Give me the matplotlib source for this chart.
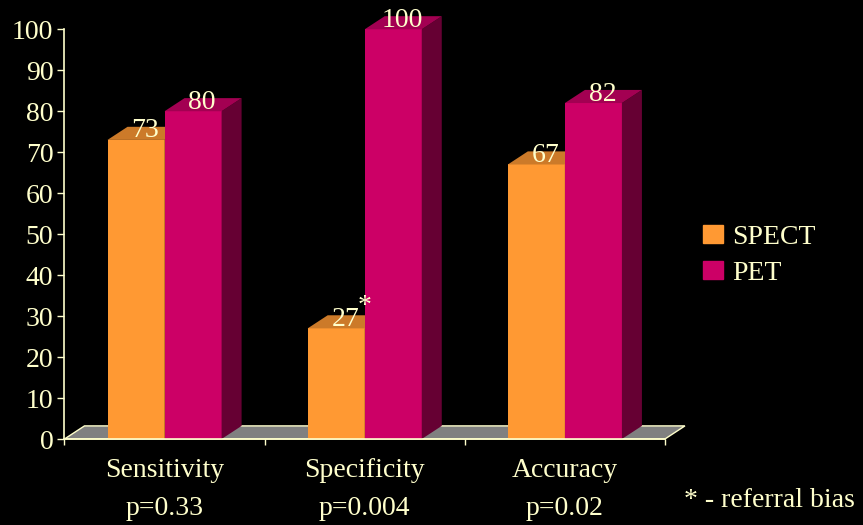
import matplotlib
matplotlib.use("Agg")
import matplotlib.pyplot as plt
from matplotlib.patches import Polygon
import numpy as np

# Diagnostic performance of SPECT vs PET (%)
categories = ["Sensitivity", "Specificity", "Accuracy"]
p_values = ["p=0.33", "p=0.004", "p=0.02"]
spect = [73, 27, 67]
pet = [80, 100, 82]
series_names = ["SPECT", "PET"]
footnote = "* - referral bias"
y_ticks = list(range(0, 101, 10))

CREAM = "#FFFFCC"
ORANGE = "#FF9933"
ORANGE_TOP = "#CC7A29"
ORANGE_SIDE = "#804D1A"
MAGENTA = "#CC0066"
MAGENTA_TOP = "#A30052"
MAGENTA_SIDE = "#660033"
FLOOR = "#808080"
FONT = "Liberation Serif"
FS = 20

plt.rcParams["font.family"] = [FONT, "DejaVu Serif"]

fig = plt.figure(figsize=(8.63, 5.25), dpi=100, facecolor="black")
ax = fig.add_axes([0.0747, 0.1638, 0.6958, 0.7804])
ax.set_facecolor("black")
ax.set_xlim(-0.5, 2.5)
ax.set_ylim(0, 100)

# pseudo-3D depth (data units)
DX, DY = 0.1, 3.2
width = 0.285
x = np.arange(len(categories))

# floor slab
floor = Polygon([(-0.5, 0), (2.5, 0), (2.5 + DX, DY), (-0.5 + DX, DY)],
                closed=True, facecolor=FLOOR, edgecolor=CREAM, lw=1.0,
                zorder=1, clip_on=False)
ax.add_patch(floor)


def bars_3d(xs, vals, front, top, side, z):
    rects = ax.bar(xs, vals, width=width, color=front, zorder=z,
                   linewidth=0)
    for r in rects:
        x0, w, h = r.get_x(), r.get_width(), r.get_height()
        x1 = x0 + w
        ax.add_patch(Polygon([(x1, 0), (x1 + DX, DY), (x1 + DX, h + DY), (x1, h)],
                             closed=True, facecolor=side, lw=0, zorder=z,
                             clip_on=False))
        ax.add_patch(Polygon([(x0, h), (x1, h), (x1 + DX, h + DY), (x0 + DX, h + DY)],
                             closed=True, facecolor=top, lw=0, zorder=z,
                             clip_on=False))
    return rects


b1 = bars_3d(x - width / 2, spect, ORANGE, ORANGE_TOP, ORANGE_SIDE, 3)
b2 = bars_3d(x + width / 2, pet, MAGENTA, MAGENTA_TOP, MAGENTA_SIDE, 4)

# value labels on the bar tops
for xs, vals in ((x - width / 2, spect), (x + width / 2, pet)):
    for xi, v in zip(xs, vals):
        ax.text(xi + 0.045, v + 0.6, f"{v}", ha="center", va="baseline",
                color=CREAM, fontsize=FS, zorder=6, clip_on=False)

# referral-bias marker on SPECT specificity
ax.text(1 - 0.0365, spect[1] + 3.8, "*", ha="left", va="baseline",
        color=CREAM, fontsize=FS, zorder=6)

# axes styling
for s in ("top", "right"):
    ax.spines[s].set_visible(False)
for s in ("left", "bottom"):
    ax.spines[s].set_color(CREAM)
    ax.spines[s].set_linewidth(1.2)
    ax.spines[s].set_zorder(5)

ax.set_yticks(y_ticks)
ax.set_yticklabels([str(t) for t in y_ticks])
ax.tick_params(axis="y", colors=CREAM, direction="out", length=5, width=1,
               pad=3, labelsize=FS, labelcolor=CREAM)

ax.set_xticks(x)
ax.set_xticklabels(categories)
ax.tick_params(axis="x", which="major", length=0, pad=14, labelsize=FS,
               labelcolor=CREAM)
ax.set_xticks(np.arange(-0.5, 2.51, 1.0), minor=True)
ax.tick_params(axis="x", which="minor", direction="out", length=4.5,
               width=1, color=CREAM)

for xi, p in zip(x, p_values):
    ax.text(xi, -76 / 4.097, p, ha="center", va="baseline", color=CREAM,
            fontsize=FS, clip_on=False)

# legend
handles = [plt.Rectangle((0, 0), 1, 1, color=ORANGE),
           plt.Rectangle((0, 0), 1, 1, color=MAGENTA)]
leg = fig.legend(handles, series_names, loc="upper left",
                 bbox_to_anchor=(703 / 863, 1 - 225 / 525),
                 bbox_transform=fig.transFigure, frameon=False,
                 fontsize=FS, handlelength=0.72, handleheight=0.61,
                 handletextpad=0.32, labelspacing=0.39, borderpad=0,
                 borderaxespad=0, labelcolor=CREAM)

fig.text(855 / 863, 1 - 507 / 525, footnote, ha="right", va="baseline",
         color=CREAM, fontsize=FS)

fig.savefig("out.png", dpi=100, facecolor="black")
